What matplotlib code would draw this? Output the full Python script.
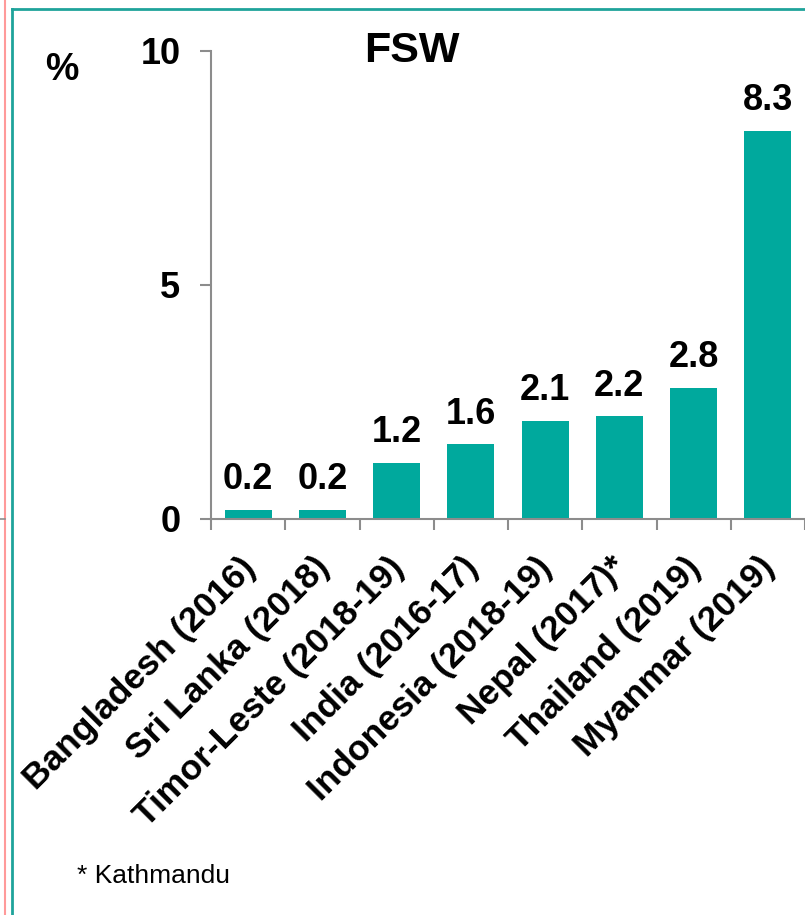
import matplotlib
matplotlib.use("Agg")
import matplotlib.pyplot as plt
from matplotlib.lines import Line2D

plt.rcParams['font.family'] = ['Liberation Sans', 'DejaVu Sans']

# Data
countries = ['Bangladesh (2016)', 'Sri Lanka (2018)', 'Timor-Leste (2018-19)',
             'India (2016-17)', 'Indonesia (2018-19)', 'Nepal (2017)*',
             'Thailand (2019)', 'Myanmar (2019)']
values = [0.2, 0.2, 1.2, 1.6, 2.1, 2.2, 2.8, 8.3]
value_labels = ['0.2', '0.2', '1.2', '1.6', '2.1', '2.2', '2.8', '8.3']
y_ticks = [0, 5, 10]

BAR_COLOR = '#00A99D'
AXIS_COLOR = '#8C8C8C'

W, H = 805, 915
fig = plt.figure(figsize=(W / 100, H / 100), dpi=100)

# axes placement in pixels
left, right, bottom, top = 211, 805, 519, 51
ax = fig.add_axes([left / W, 1 - bottom / H, (right - left) / W, (bottom - top) / H])

x = list(range(len(countries)))
ax.bar(x, values, width=0.63, color=BAR_COLOR, zorder=2)

for xi, v, lab in zip(x, values, value_labels):
    ax.annotate(lab, (xi, v), xytext=(0, 9), textcoords='offset points',
                ha='center', va='bottom', fontsize=26, fontweight='bold')

ax.set_xlim(-0.5, len(countries) - 0.5)
ax.set_ylim(0, 10)

# ticks: y at 0/5/10, x ticks at category boundaries
ax.set_yticks(y_ticks)
ax.set_yticklabels([str(t) for t in y_ticks], fontsize=26, fontweight='bold')
ax.set_xticks([i - 0.5 for i in range(len(countries) + 1)])
ax.set_xticklabels([])
ax.tick_params(axis='both', direction='out', length=8, width=1.5, color=AXIS_COLOR)
ax.tick_params(axis='y', pad=14)

for s in ['top', 'right']:
    ax.spines[s].set_visible(False)
for s in ['left', 'bottom']:
    ax.spines[s].set_color(AXIS_COLOR)
    ax.spines[s].set_linewidth(1.5)

# rotated category labels
for xi, name in zip(x, countries):
    ax.annotate(name, (xi, 0), xytext=(-7, -23), textcoords='offset points',
                rotation=45, rotation_mode='anchor', ha='right', va='top',
                fontsize=25.5, fontweight='bold', annotation_clip=False)

# title and unit
fig.text(412 / W, 1 - 51 / H, 'FSW', ha='center', va='center',
         fontsize=31, fontweight='bold')
fig.text(62 / W, 1 - 70 / H, '%', ha='center', va='center',
         fontsize=27, fontweight='bold')

# footnote
fig.text(77 / W, 1 - 876 / H, '* Kathmandu', ha='left', va='center', fontsize=19)

# slide frame decorations
fig.add_artist(Line2D([5 / W, 5 / W], [0, 1], color='#FF9A9A', lw=1.5))
fig.add_artist(Line2D([0, 5 / W], [1 - 519 / H, 1 - 519 / H], color=AXIS_COLOR, lw=1.2))
fig.add_artist(Line2D([12 / W, 12 / W], [0, 1 - 9 / H], color='#1FA39B', lw=2))
fig.add_artist(Line2D([12 / W, 1], [1 - 9 / H, 1 - 9 / H], color='#1FA39B', lw=2))

fig.savefig('out.png', dpi=100, facecolor='white')
